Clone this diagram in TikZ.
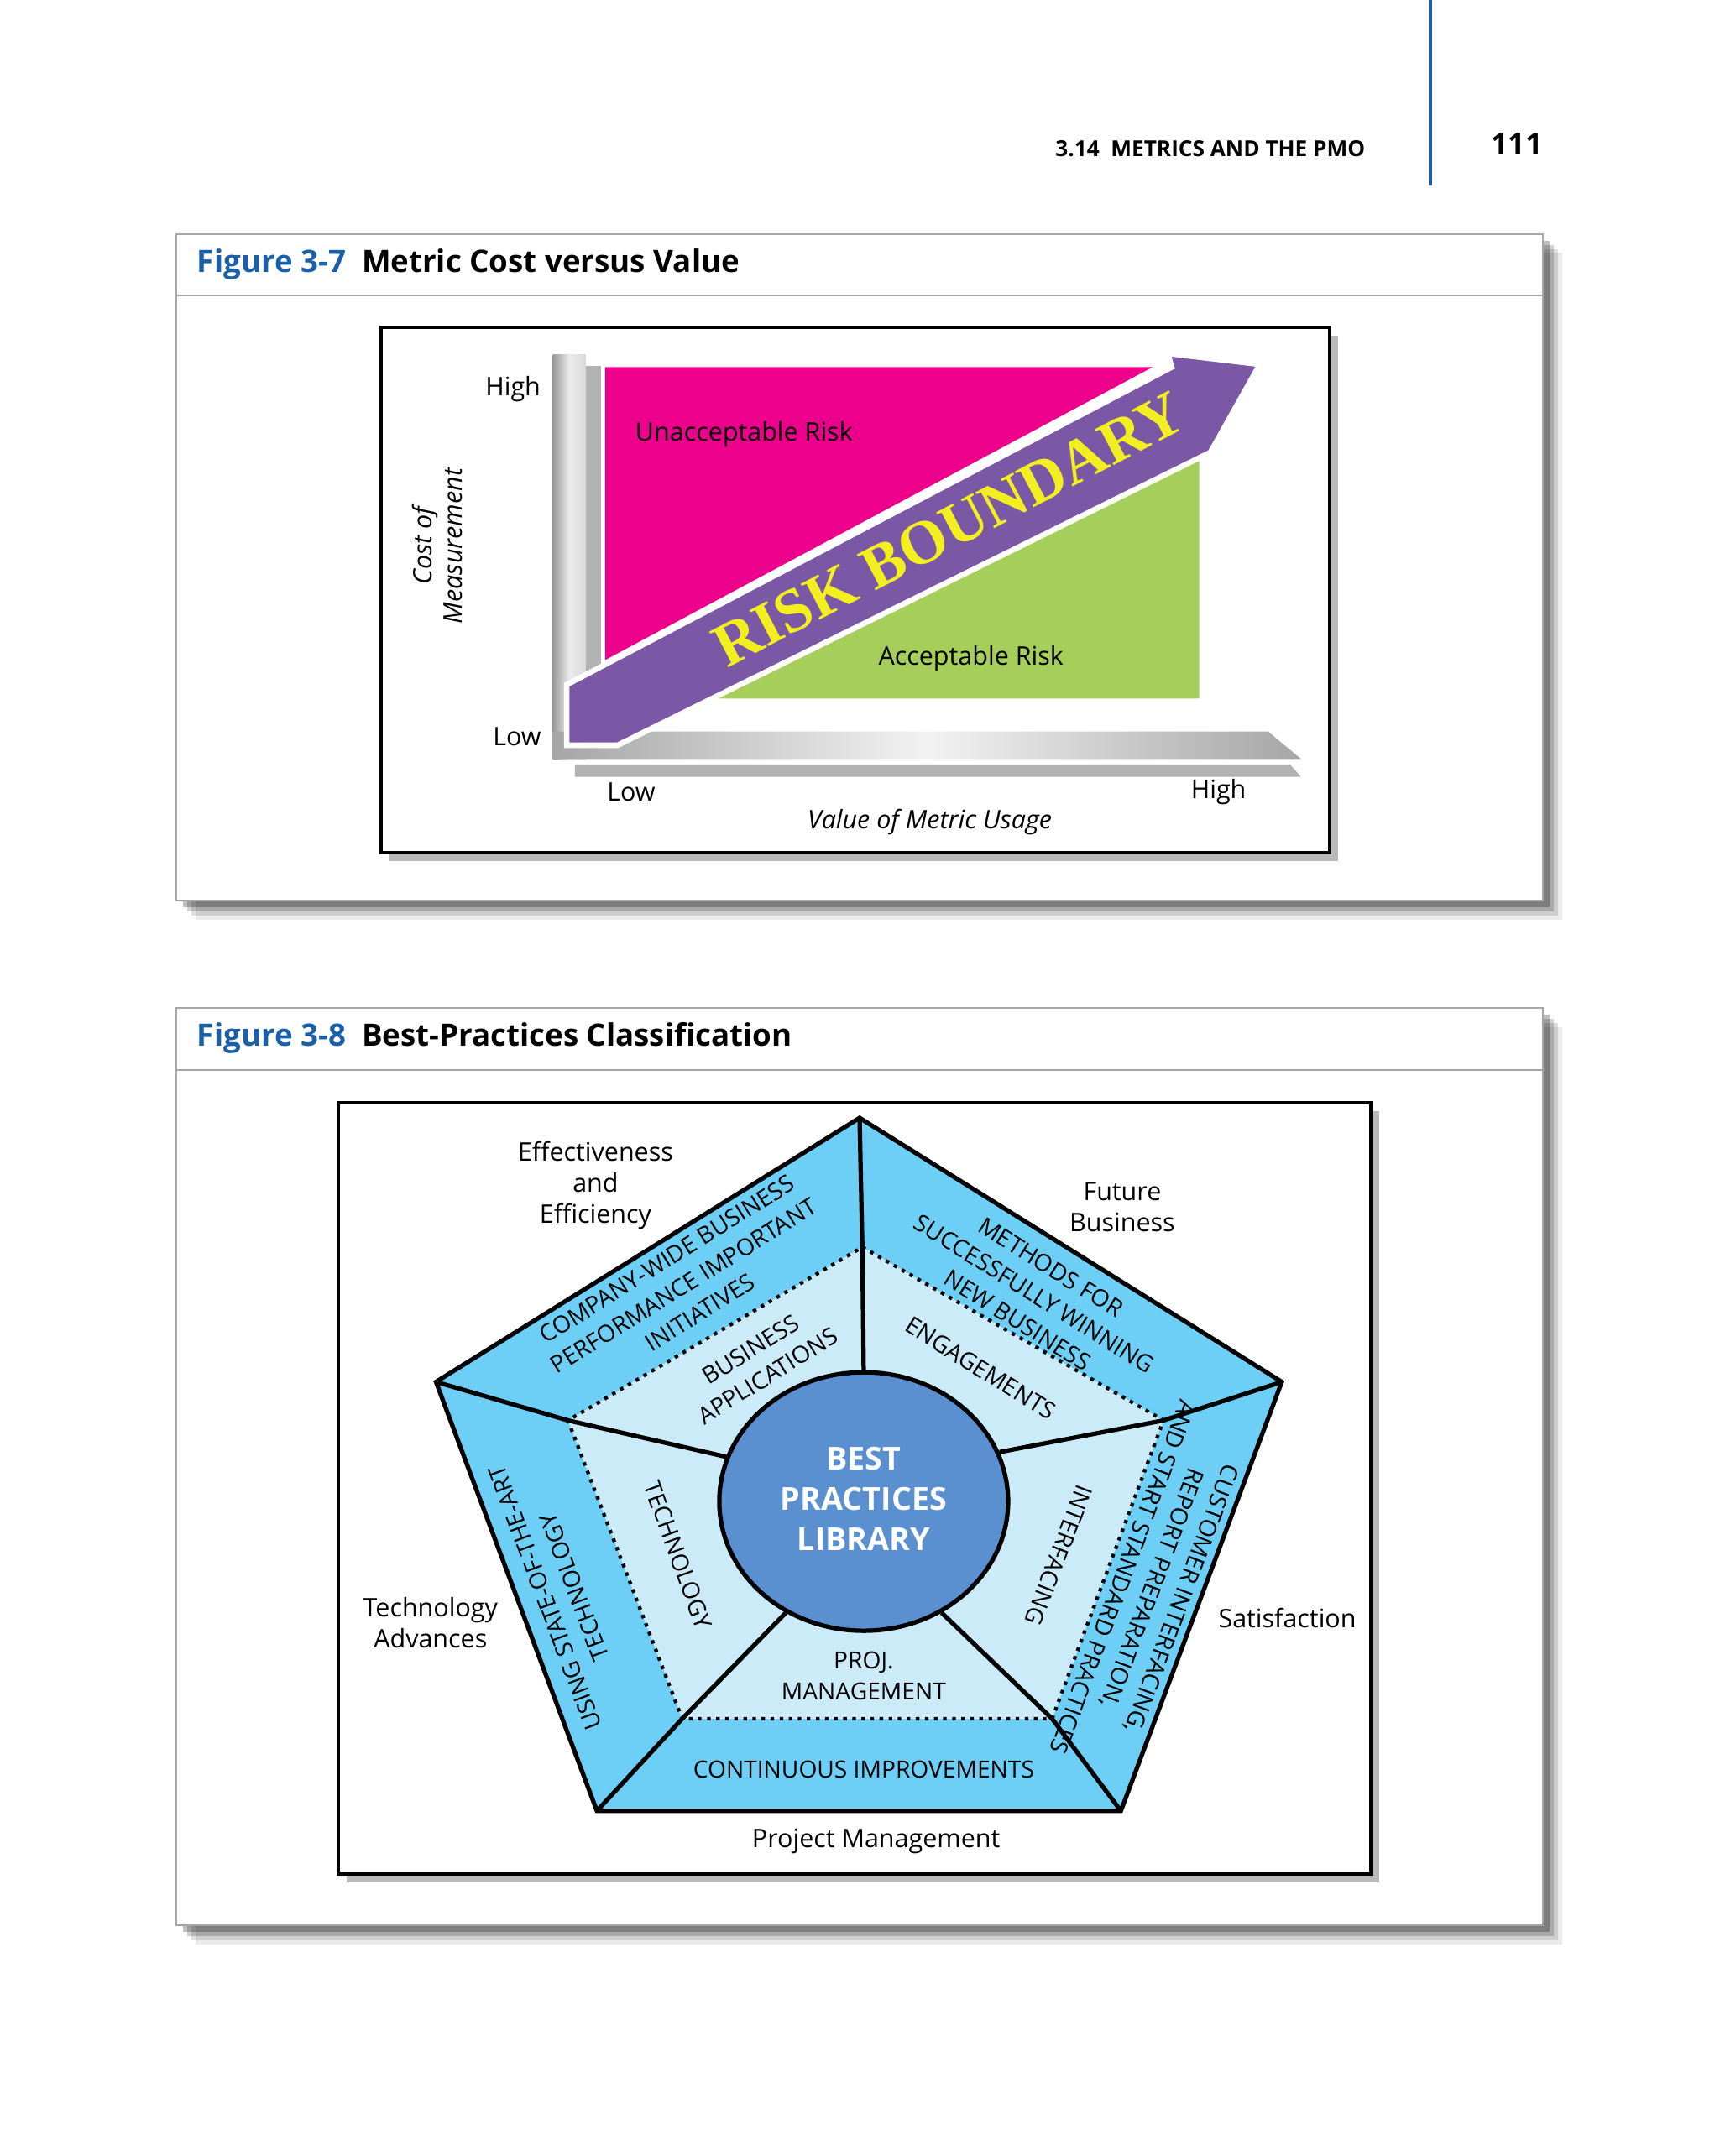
\documentclass[tikz,border=0pt]{standalone}
\usepackage{fontspec}
\usetikzlibrary{shapes.geometric}
\setmainfont{Open Sans}
\newfontfamily\serifrb{Liberation Serif}
\definecolor{tblue}{HTML}{1B5FA8}
\definecolor{mag}{HTML}{EC008C}
\definecolor{grn}{HTML}{A6CE5A}
\definecolor{purp}{HTML}{7B58A6}
\definecolor{yel}{HTML}{F2EE1F}
\definecolor{ring}{HTML}{6DCFF6}
\definecolor{inring}{HTML}{CCEBF9}
\definecolor{circ}{HTML}{5A8FD0}
\tikzset{
 lbl/.style={font=\fontsize{9.3}{11.2}\selectfont,align=center,inner sep=0pt},
 rlbl/.style={font=\fontsize{8.6}{11.4}\selectfont,align=center,inner sep=0pt},
 ttl/.style={font=\fontsize{11.2}{13}\selectfont\bfseries,anchor=west,inner sep=0pt},
 spoke/.style={line width=1.6pt},
}
\begin{document}
\begin{tikzpicture}[x=0.5pt,y=-0.5pt]
\useasboundingbox (0,0) rectangle (1250,1568);
\fill[white] (0,0) rectangle (1250,1568);
% header
\draw[tblue,line width=1.2pt] (1040,0) -- (1040,135);
\node[font=\fontsize{8}{9}\selectfont\bfseries,anchor=east,inner sep=0pt] (hd) at (993,108) {3.14\ \ METRICS AND THE PMO};
\node[font=\fontsize{11}{12}\selectfont\bfseries,inner sep=0pt] (pg) at (1103,105) {111};
% figure frames with shadows
\foreach \ya/\yb in {170/655,733/1400}{
 \foreach \i/\op in {14/0.08,11/0.12,8/0.18,5/0.25}{
  \fill[black,opacity=\op] (128+\i,\ya+\i) rectangle (1122+\i,\yb+\i);}
 \fill[white] (128,\ya) rectangle (1122,\yb);
 \draw[gray!70,line width=0.6pt] (128,\ya) rectangle (1122,\yb);
}
\draw[gray!70,line width=0.6pt] (128,215) -- (1122,215);
\draw[gray!70,line width=0.6pt] (128,778) -- (1122,778);
\node[ttl] (t1) at (143,192) {\textcolor{tblue}{Figure 3-7}\ \ Metric Cost versus Value};
\node[ttl] (t2) at (143,755) {\textcolor{tblue}{Figure 3-8}\ \ Best-Practices Classification};

% ===== Figure 3-7 =====
\fill[gray!55] (283,244) rectangle (973,626);
\fill[white] (277,238) rectangle (967,620);
\draw[line width=1.3pt] (277,238) rectangle (967,620);
% vertical bar
\shade[left color=gray!80,right color=gray!30,middle color=gray!15] (402,258) rectangle (426,552);
\fill[gray!60] (426,266) rectangle (437,552);
% horizontal bars
\shade[left color=gray!70,right color=gray!70,middle color=gray!10] (402,532) -- (922,532) -- (946,552) -- (402,552) -- cycle;
\fill[gray!60] (418,556) -- (938,556) -- (946,565) -- (418,565) -- cycle;
% regions
\fill[mag] (440,267) -- (838,267) -- (440,480) -- cycle;
\fill[grn] (488,508) -- (872,508) -- (872,329) -- cycle;
% arrow
\filldraw[fill=purp,draw=white,line width=2pt,line join=miter] (412,498) -- (852,267) -- (849,257) -- (916,265) -- (884,322) -- (880,329) -- (449,542) -- (412,542) -- cycle;
\node[font=\fontsize{22.5}{23}\selectfont\serifrb\bfseries,text=yel,rotate=27.7,inner sep=0pt] (rb) at (690,385) {RISK BOUNDARY};
\node[lbl] (ur) at (541,316) {Unacceptable Risk};
\node[lbl] (ar) at (706,479) {Acceptable Risk};
\node[lbl] (hi1) at (373,283) {High};
\node[lbl] (lo1) at (376,536) {Low};
\node[lbl] (lo2) at (459,576) {Low};
\node[lbl] (hi2) at (886,576) {High};
\node[lbl,font=\fontsize{9.3}{11}\selectfont\itshape] (xv) at (676,598) {Value of Metric Usage};
\node[lbl,font=\fontsize{9.3}{11}\selectfont\itshape,rotate=90] (yv) at (318,397) {Cost of\\Measurement};

% ===== Figure 3-8 =====
\fill[gray!55] (252,808) rectangle (1003,1369);
\fill[white] (246,802) rectangle (997,1363);
\draw[line width=1.3pt] (246,802) rectangle (997,1363);
\coordinate (o1) at (625,813);
\coordinate (o2) at (932,1005);
\coordinate (o3) at (815,1317);
\coordinate (o4) at (434,1317);
\coordinate (o5) at (317,1005);
\coordinate (i1) at (627,907);
\coordinate (i2) at (846,1033);
\coordinate (i3) at (765,1250);
\coordinate (i4) at (496,1250);
\coordinate (i5) at (413,1033);
\fill[ring] (o1) -- (o2) -- (o3) -- (o4) -- (o5) -- cycle;
\fill[inring] (i1) -- (i2) -- (i3) -- (i4) -- (i5) -- cycle;
\draw[dotted,line width=1.3pt] (i1) -- (i2) -- (i3) -- (i4) -- (i5) -- cycle;
\draw[line width=1.6pt,line join=miter] (o1) -- (o2) -- (o3) -- (o4) -- (o5) -- cycle;
\node[draw,line width=1.6pt,fill=circ,ellipse,minimum width=105pt,minimum height=94pt,inner sep=0pt] (lib) at (628,1092) {};
\node[font=\fontsize{11.5}{14.5}\selectfont\bfseries,text=white,align=center] (libt) at (628,1090) {BEST\\PRACTICES\\LIBRARY};
\draw[spoke] (o1) -- (i1) -- (lib.north);
\draw[spoke] (o2) -- (i2) -- (lib.20);
\draw[spoke] (o5) -- (i5) -- (lib.162);
\draw[spoke] (o4) -- (i4) -- (lib.235);
\draw[spoke] (o3) -- (i3) -- (lib.305);
% ring texts
\node[rlbl,rotate=32] (r1) at (497,935) {COMPANY-WIDE BUSINESS\\PERFORMANCE IMPORTANT\\INITIATIVES};
\node[rlbl,rotate=-32] (r2) at (752,941) {METHODS FOR\\SUCCESSFULLY WINNING\\NEW BUSINESS};
\node[rlbl,rotate=-110.5] (r3) at (838,1155) {CUSTOMER INTERFACING,\\REPORT PREPARATION,\\AND START STANDARD PRACTICES};
\node[rlbl] (r4) at (628,1287) {CONTINUOUS IMPROVEMENTS};
\node[rlbl,rotate=110.5] (r5) at (407,1158) {USING STATE-OF-THE-ART\\TECHNOLOGY};
\node[rlbl,rotate=32] (n1) at (552,991) {BUSINESS\\APPLICATIONS};
\node[rlbl,rotate=-32] (n2) at (713,995) {ENGAGEMENTS};
\node[rlbl,rotate=-111] (n3) at (770,1131) {INTERFACING};
\node[rlbl] (n4) at (628,1219) {PROJ.\\MANAGEMENT};
\node[rlbl,rotate=-70] (n5) at (493,1131) {TECHNOLOGY};
% outside labels
\node[lbl] (e1) at (433,862) {Effectiveness\\and\\Efficiency};
\node[lbl] (e2) at (816,878) {Future\\Business};
\node[lbl] (e3) at (313,1180) {Technology\\Advances};
\node[lbl] (e4) at (936,1177) {Satisfaction};
\node[lbl] (e5) at (637,1339) {Project Management};
\end{tikzpicture}
\end{document}
